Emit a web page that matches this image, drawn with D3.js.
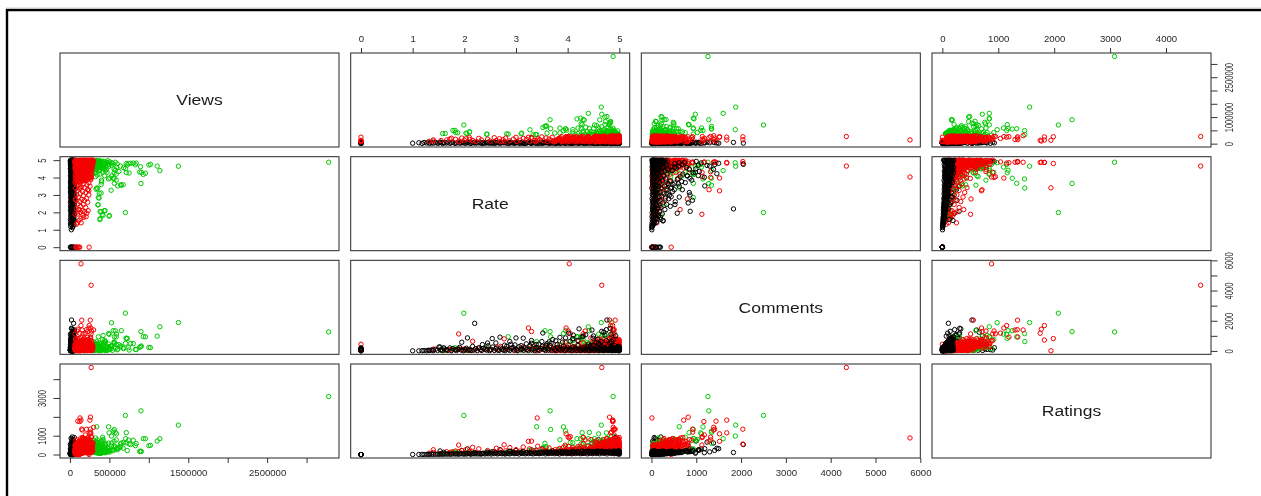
<!DOCTYPE html>
<html>
<head>
<meta charset="utf-8">
<script src="https://cdn.jsdelivr.net/npm/d3@7"></script>
<style>
  body { margin: 0; background: #fff; }
  svg { display: block; filter: blur(0.35px); }
</style>
</head>
<body>
<svg></svg>
<script>
let width = 1261
let height = 496

let names = ["Views", "Rate", "Comments", "Ratings"]

// each row: views in thousands, rate, comments, ratings
let blackRows = [
  [6,0,5,0],[14,0,40,0],[22,0,90,0],[30,0,150,0],[38,0,200,0],[48,0,25,0],[55,0,110,0],[10,0,180,0],
  [18,1,8,3],[32,1.12,6,4],[10,1.18,14,6],[41,1.22,22,8],[24,1.27,10,5],[52,1.3,45,10],[8,1.33,30,12],
  [36,1.37,70,14],[18,1.4,15,18],[47,1.44,110,9],[12,1.48,38,22],[28,1.51,260,16],[55,1.54,60,25],
  [6,1.58,18,11],[40,1.61,130,30],[21,1.65,85,20],[50,1.68,40,35],[14,1.72,200,14],[33,1.75,12,28],
  [44,1.78,155,40],[9,1.82,75,24],[26,1.85,32,45],[56,1.88,100,18],[17,1.91,240,32],[37,1.94,55,50],
  [48,1.98,15,22],[11,2.01,120,38],[29,2.04,180,26],[53,2.07,48,55],[20,2.1,90,42],[7,2.13,28,17],
  [42,2.16,300,60],[31,2.19,65,34],[15,2.22,140,48],[51,2.25,22,28],[25,2.28,210,65],[39,2.31,80,20],
  [9,2.34,35,44],[46,2.37,170,70],[19,2.4,110,30],[34,2.43,50,58],[57,2.46,340,38],[13,2.49,18,75],
  [27,2.52,95,24],[43,2.55,260,62],[6,2.58,42,46],[36,2.61,150,80],[50,2.64,70,32],[22,2.67,25,54],
  [12,2.7,190,85],[41,2.73,120,40],[30,2.76,60,68],[54,2.79,15,27],[17,2.82,310,90],[8,2.85,85,52],
  [38,2.88,35,36],[47,2.91,165,74],[24,2.94,230,95],[14,2.97,50,44],[33,3,105,60],[55,3.03,20,82],
  [10,3.06,280,30],[28,3.09,75,100],[44,3.12,140,55],[19,3.15,40,70],[6,3.18,195,38],[37,3.21,95,88],
  [52,3.24,30,48],[25,3.27,350,105],[15,3.3,60,64],[40,3.33,125,34],[31,3.36,15,92],[8,3.39,220,56],
  [48,3.42,80,110],[21,3.45,45,42],[56,3.48,160,78],[12,3.51,290,60],[35,3.54,100,115],[27,3.57,25,36],
  [43,3.6,135,84],[9,3.63,65,50],[18,3.66,370,120],[50,3.69,38,66],[30,3.72,180,98],[6,3.75,85,44],
  [39,3.78,20,125],[23,3.81,245,70],[54,3.84,110,30],[14,3.87,55,105],[46,3.9,150,58],[33,3.92,320,130],
  [10,3.95,30,80],[26,3.98,90,46],[42,4,205,112],[57,4.03,60,64],[17,4.05,130,135],[36,4.08,15,38],
  [7,4.1,270,90],[49,4.13,75,120],[29,4.15,185,54],[20,4.18,40,145],[38,4.2,350,72],[12,4.22,105,100],
  [53,4.25,25,42],[24,4.27,155,150],[44,4.3,70,60],[8,4.32,230,115],[32,4.34,45,82],[16,4.36,125,155],
  [50,4.38,300,36],[27,4.4,85,128],[41,4.42,20,66],[11,4.44,195,160],[35,4.46,60,94],[55,4.48,140,50],
  [19,4.5,390,170],[6,4.52,35,76],[46,4.54,110,140],[30,4.56,250,58],[14,4.58,75,108],[39,4.6,15,165],
  [23,4.62,165,40],[52,4.64,50,130],[9,4.66,280,88],[34,4.68,95,175],[17,4.7,30,62],[48,4.72,210,118],
  [26,4.74,65,150],[12,4.76,125,34],[42,4.78,330,100],[56,4.8,42,180],[21,4.82,175,72],[7,4.83,85,135],
  [37,4.85,18,56],[29,4.86,240,160],[51,4.87,105,92],[15,4.89,55,185],[44,4.9,150,44],[10,4.91,360,124],
  [33,4.92,70,78],[24,4.93,28,170],[47,4.94,200,60],[18,4.95,115,145],[5,4.96,45,105],[40,4.97,265,190],
  [54,4.97,90,36],[28,4.98,22,130],[13,4.98,160,82],[36,4.99,60,200],[49,4.99,310,66],[20,5,130,110],
  [8,5,35,48],[43,5,190,155],[31,5,12,20],[57,5,80,230],[16,5,240,90],[25,5,50,300],[52,4.96,145,380],
  [11,4.9,95,450],[38,4.94,60,560],[22,4.97,170,660],[46,4.88,130,760],[15,4.95,85,860],[30,4.92,210,930],
  [58,4.85,280,420],[42,4.8,110,510],[28,4.7,190,300],[19,4.6,240,350],[55,4.5,160,260],
  [8,4.93,40,250],[33,4.9,120,340],[50,4.86,70,480],[16,4.82,180,610],[41,4.78,30,720],[25,4.88,100,800],
  [56,4.91,60,900],[12,4.84,210,270],[37,4.76,90,390],[6,4.72,150,530],[47,4.68,45,640],[21,4.95,250,220],
  // scattered ones away from the strip
  [46,2.2,1830,108],[20,4.76,2050,530],[42,2.06,865,300],[30,1.95,575,210],[48,1.53,260,190],[35,1.6,210,120],
  [28,2.54,820,150],[52,2.69,915,260],[24,2.61,530,90],[33,2.45,525,130],[18,2.88,620,175],[40,2.78,385,70],
  [55,3.39,430,230],[26,3.1,350,85],[14,3.14,845,160],[37,3,860,210],[44,3.3,690,250],[21,3.5,620,130],
  [50,3.52,1190,310],[30,3.71,755,180],[12,3.77,675,110],[38,3.64,600,90],[46,4.11,1045,240],[16,4.1,800,140],
  [25,4.22,1460,330],[58,4.47,1385,610],[34,4.49,845,280],[20,4.35,1070,240],[40,4.6,520,780],[10,4.58,780,200],
  [15,3.85,900,170],[54,4.7,1240,660],[36,4.85,620,700],[27,4.3,980,70],[48,4.93,1000,720],[19,4.82,1500,310],
  [32,4.66,1300,140],[22,4.02,1180,95],[45,3.6,480,140],[38,4.75,1410,220],[11,3.3,510,60],[56,2.9,440,160],
  [7,3.44,450,60],[24,3.68,520,85],[41,3.9,580,120],[13,4.05,640,105],[52,4.2,700,150],[30,4.4,460,190],
  [18,4.55,550,90],[44,4.65,610,170],[9,4.75,680,130],[35,4.88,740,210],[56,4.1,800,180],[23,3.96,860,150],
  [48,4.28,930,200],[15,4.5,990,120],[39,4.72,1050,250],[6,4.84,1110,300],[28,3.8,430,70],[51,3.58,380,110],
  [20,3.2,470,95],[34,2.98,400,80],[11,2.35,420,55],[47,4.45,360,280],[26,4.62,430,220],[54,4.82,520,330]
]

let redRows = [
  [140,4.03,5770,880],[269,4.66,4350,4620],[243,0,440,0],[258,4.92,2040,1345],[150,4.81,2040,555],
  [125,4.87,1170,1750],[100,4.88,1440,1770],[128,3.41,10,1942],[260,4.81,820,1985],[140,4.87,1680,1825],
  [253,4.87,720,1825],[300,4.88,1390,1445],[263,4.85,920,1190],[265,3.97,1520,1100],[150,4.9,920,1350],
  [155,4.88,1385,1300],[66,1.89,1125,505],[70,2.77,800,513],[272,4.01,1320,924],[268,4.05,1135,950],
  [240,3.24,1520,700],[225,3.3,1285,710],[245,4.83,1680,1150],[210,4.9,1410,1340],[195,4.9,1180,1040],
  [120,2.16,640,383],[142,1.4,120,253],[165,4.3,1130,900],[92,4.34,1320,780],
  [72,0,10,0],[88,0,40,0],[100,0,15,0],[112,0,70,0],[124,0,30,0],[80,0,90,0],
  // rings below the block
  [82,1.32,30,70],[96,1.4,55,110],[118,1.55,80,60],[140,1.66,40,150],[175,1.72,95,90],[205,1.75,35,130],
  [165,1.83,70,190],[96,1.9,140,160],[212,1.95,110,220],[130,2,50,80],[185,2.03,60,260],[155,2.1,105,170],
  [230,2.1,85,140],[110,2.16,30,70],[80,2.22,150,90],[200,2.28,170,300],[140,2.33,45,50],[170,2.45,120,210],
  [95,2.5,75,110],[225,2.58,40,170],[122,2.62,210,330],[185,2.68,95,120],[75,2.7,300,230],[150,2.75,60,60],
  [210,2.8,130,200],[105,2.88,180,370],[170,2.95,55,140],[240,3,90,260],[85,3.02,40,90],[130,3.08,110,180],
  [200,3.14,260,400],[160,3.2,70,120],[96,3.26,150,300],[225,3.3,100,150],[120,3.35,330,200],[72,3.38,60,80],
  [185,3.42,210,440],[148,3.46,50,110],[255,3.5,180,290],[105,3.54,90,230],[215,3.58,320,170],[80,3.61,130,70],
  [170,3.64,40,350],[130,3.68,240,140],[240,3.7,75,210],
  // solid block
  [64,3.74,160,110],[92,3.76,35,260],[118,3.79,400,180],[148,3.81,90,90],[178,3.84,220,320],[205,3.86,55,150],
  [265,3.88,130,240],[72,3.9,260,70],[102,3.92,70,390],[132,3.94,30,130],[160,3.96,180,210],[192,3.98,110,300],
  [222,4,45,170],[248,4.02,340,430],[82,4.04,95,100],[112,4.06,200,280],[142,4.08,60,60],[172,4.1,130,350],
  [202,4.12,280,190],[232,4.14,35,250],[270,4.16,170,120],[66,4.18,70,340],[95,4.2,420,150],[125,4.22,110,220],
  [155,4.23,45,90],[185,4.25,240,400],[215,4.27,85,270],[245,4.29,150,130],[278,4.3,55,320],[78,4.32,190,80],
  [108,4.34,30,200],[138,4.35,300,310],[168,4.37,100,140],[198,4.39,65,450],[228,4.4,220,240],[258,4.41,120,170],
  [70,4.43,40,110],[90,4.44,150,380],[118,4.46,480,260],[146,4.47,75,70],[176,4.48,260,340],[206,4.5,20,190],
  [236,4.51,180,500],[264,4.52,95,280],[284,4.53,350,150],[62,4.54,125,230],[84,4.55,55,420],[104,4.56,210,120],
  [128,4.57,90,300],[152,4.58,390,530],[180,4.59,35,180],[210,4.6,140,360],[240,4.61,70,90],[268,4.62,270,440],
  [74,4.63,105,250],[98,4.64,290,580],[122,4.65,190,160],[144,4.66,60,320],[170,4.67,500,620],[196,4.68,115,210],
  [222,4.69,40,470],[250,4.7,230,130],[276,4.71,85,380],[288,4.72,160,560],[66,4.73,320,280],[88,4.74,75,100],
  [112,4.75,420,650],[136,4.76,30,240],[160,4.77,250,420],[186,4.78,100,170],[212,4.79,600,700],[238,4.8,55,340],
  [262,4.81,180,500],[282,4.82,120,220],[72,4.83,400,750],[94,4.84,280,300],[116,4.85,90,130],[140,4.85,450,600],
  [164,4.86,65,380],[190,4.87,600,800],[216,4.88,130,250],[242,4.88,25,460],[268,4.89,370,680],[290,4.89,95,180],
  [80,4.9,160,350],[102,4.9,50,540],[126,4.91,310,210],[150,4.91,460,720],[174,4.92,560,420],[200,4.92,470,850],
  [226,4.93,240,290],[252,4.93,410,610],[278,4.94,45,390],[64,4.94,420,170],[88,4.95,100,480],[110,4.95,190,300],
  [134,4.95,330,660],[158,4.96,650,880],[182,4.96,85,230],[208,4.96,300,520],[234,4.97,560,760],[260,4.97,60,340],
  [286,4.97,220,440],[70,4.98,120,260],[96,4.98,480,600],[120,4.98,40,140],[144,4.98,180,400],[168,4.99,760,700],
  [194,4.99,95,320],[220,4.99,260,560],[246,4.99,620,820],[272,4.99,70,210],[292,5,340,620],[76,5,55,360],
  [100,5,210,130],[128,5,110,470],[154,5,540,250],[178,5,380,680],[204,5,170,380],[230,5,700,900],[256,5,90,510],
  [282,5,260,300],[62,4.88,200,90],[130,4.7,620,520],[200,4.55,720,640],[110,4.3,540,590],[180,4.45,850,790],
  [240,4.75,480,830],[150,4.2,640,430],[90,4.6,780,480],[220,4.85,900,760],[175,3.95,590,500],[120,4.9,830,440],
  // the thick part of Comments against Ratings
  [68,4.62,300,300],[84,4.96,340,360],[106,4.82,380,420],[126,4.7,260,480],[148,4.93,420,540],[166,4.58,350,600],
  [188,4.9,470,660],[210,4.74,310,720],[230,4.98,390,780],[252,4.64,510,260],[274,4.86,440,330],[78,4.52,560,390],
  [100,4.94,600,450],[122,4.78,520,510],[142,4.66,660,570],[164,4.97,580,630],[184,4.84,700,690],[206,4.6,640,310],
  [228,4.92,760,370],[248,4.72,540,430],[270,4.98,680,490],[72,4.8,740,550],[94,4.68,800,610],[116,4.95,620,670],
  [136,4.56,480,730],[158,4.88,400,790],[178,4.76,280,850],[198,4.99,340,350],[222,4.63,240,410],[244,4.91,460,470],
  [266,4.81,360,530],[86,4.73,220,590],[108,4.97,300,650],[130,4.85,180,710],[152,4.69,260,770],[172,4.93,500,290],
  [194,4.79,570,350],[216,4.54,430,410],[238,4.89,610,470],[262,4.67,370,530],[280,4.95,530,590],[66,4.83,460,240],
  [90,4.6,390,280],[112,4.9,270,320],[134,4.77,330,220],[156,4.99,240,180],[176,4.65,150,270],[196,4.87,200,190],
  [218,4.71,110,350],[240,4.94,170,260],[258,4.59,210,330],[276,4.84,130,410],[64,4.98,230,470],
  // holes in the block between 3.7 and 4.6
  [76,3.72,60,90],[106,3.75,25,120],[134,3.78,150,80],[164,3.8,45,160],[192,3.83,110,100],[220,3.85,30,190],
  [86,3.87,180,130],[116,3.89,55,70],[146,3.91,95,200],[176,3.93,20,110],[208,3.95,240,140],[238,3.97,65,85],
  [68,3.99,120,170],[98,4.01,40,60],[128,4.03,175,220],[158,4.05,80,120],[188,4.07,30,150],[216,4.09,130,90],
  [246,4.11,50,260],[74,4.13,210,130],[104,4.15,85,75],[134,4.17,25,190],[164,4.19,150,110],[194,4.21,60,240],
  [224,4.23,105,140],[254,4.25,35,95],[84,4.27,190,180],[114,4.29,70,65],[144,4.31,120,280],[174,4.33,40,125],
  [204,4.35,165,200],[234,4.37,75,100],[268,4.39,20,150],[72,4.41,135,90],[100,4.43,50,300],[130,4.45,90,140],
  [160,4.46,30,210],[190,4.49,155,110],[220,4.52,60,320],[250,4.54,110,160],[280,4.56,40,240],[78,4.58,175,120]
]

let greenRows = [
  [3280,4.88,1260,3080],[1375,4.65,1880,1560],[1140,4.4,1600,840],[1106,4.66,980,715],[1000,4.72,235,470],
  [930,4.18,950,840],[900,3.66,1280,2320],[895,4.62,285,175],[885,4.32,235,165],[703,1.99,2500,2075],
  [715,4.28,840,1160],[705,4.52,500,840],[770,4.82,500,530],[744,4.81,220,770],[830,4.73,105,470],
  [713,4.8,830,620],[645,3.58,330,420],[651,3.56,1340,600],[605,3.52,120,360],[563,3.67,935,1330],
  [548,3.96,1340,1250],[490,3.92,1150,1470],[522,3.27,325,230],[500,1.82,215,130],[434,2.1,90,110],
  [408,1.87,160,90],[382,2.05,65,70],[382,1.63,40,55],[357,2.44,110,85],[360,2.85,935,180],[372,3.1,180,100],
  [340,3.4,620,1475],[348,3.38,90,75],[400,3.85,240,280],[402,3.75,75,120],[396,3.6,130,95],
  [590,4.6,1115,1095],[574,4.42,1340,1175],[527,4.85,1870,980],[497,4.75,1100,1150],[420,4.68,1025,800],
  [587,4.2,935,300],[727,4.72,827,210],[957,4.25,935,840],[905,4.3,325,165],[1020,4.76,215,490],
  [840,4.83,90,585],[803,4.83,485,758],[750,4.26,60,560],[680,4.56,150,650],[640,4.66,260,560],
  [620,4.35,420,330],[600,4.78,75,250],[575,4.88,190,400],[560,4.5,560,700],[540,4.82,40,200],[525,4.7,310,450],
  [505,4.9,120,340],[490,4.62,450,600],[470,4.88,30,170],[460,4.45,230,270],[450,4.8,640,520],[440,4.9,90,310],
  [430,4.75,350,420],[420,4.55,160,230],[410,4.92,60,130],[398,4.84,280,700],[385,4.7,20,260],[375,4.88,520,380],
  [365,4.8,110,190],[355,4.92,210,640],[345,4.65,70,320],[335,4.9,400,240],[325,4.76,150,880],[318,4.86,30,150],
  [310,4.92,290,450],[303,4.7,90,560],[300,4.82,600,760],[298,4.88,180,300],[470,4.3,250,180],[440,4.1,690,390],
  [415,4.3,755,920],[380,4.2,50,210],[360,4.4,430,150],[530,4.1,170,620],[505,3.98,90,210],[560,4.26,480,240],
  [330,3.33,150,160],[395,3.11,70,120],[370,2.82,130,90],[355,2.43,280,140],[446,2.1,45,95],[497,1.78,100,150],
  [420,1.83,85,110],[380,1.58,55,60],[395,2.03,60,80],[675,3.59,200,340],[561,3.96,600,430],[587,3.85,420,780],
  // the thick part just above the red band
  [300,4.97,40,120],[308,4.6,130,220],[316,4.9,230,340],[324,4.72,320,460],[332,4.95,80,580],[340,4.52,180,680],
  [348,4.84,270,780],[356,4.68,360,110],[364,4.98,20,200],[372,4.58,110,310],[380,4.88,200,420],[388,4.74,300,530],
  [296,4.82,390,640],[304,4.92,480,750],[312,4.66,60,150],[320,4.8,150,260],[328,4.99,240,370],[336,4.76,330,480],
  [344,4.46,420,590],[352,4.94,510,160],[360,4.62,100,270],[368,4.86,190,90],[376,4.42,280,180],[384,4.96,370,290],
  [392,4.7,460,400],[400,4.56,50,510],[408,4.89,140,620],[416,4.64,220,730],[424,4.93,310,140],[432,4.5,400,240],
  [440,4.78,490,350],[448,4.38,570,460],[456,4.6,30,570],[464,4.85,120,120],[472,4.7,210,220],[480,4.97,300,330],
  [300,4.4,20,440],[315,4.25,95,100],[330,4.3,175,550],[345,4.15,255,210],[305,4.5,340,310],[322,4.05,430,640]
]

let tickValues = [
  [0, 500000, 1000000, 1500000, 2000000, 2500000, 3000000],
  [0, 1, 2, 3, 4, 5],
  [0, 1000, 2000, 3000, 4000, 5000, 6000],
  [0, 1000, 2000, 3000, 4000]
]
let xTickLabels = [
  [0, 500000, 1500000, 2500000],
  [0, 1, 2, 3, 4, 5],
  [0, 1000, 2000, 3000, 4000, 5000, 6000],
  [0, 1000, 2000, 3000, 4000]
]
let yTickLabels = [
  [0, 1000000, 2500000],
  [0, 1, 2, 3, 4, 5],
  [0, 2000, 4000, 6000],
  [0, 1000, 3000]
]

let black = {rows: blackRows, color: "#000000"}
let blackHigh = {rows: blackRows.filter((d) => d[3] > 200), color: "#000000"}
let blackLow = {rows: blackRows.filter((d) => d[3] <= 200), color: "#000000"}
let green = {rows: greenRows, color: "#00c800"}
let red = {rows: redRows, color: "#f50000"}

let cellW = 279
let cellH = 94
let stepX = 290.67
let stepY = 103.67
let left = 60
let top0 = 53

let svg = d3.select("svg")
svg.attr("width", width)
svg.attr("height", height)

let value = (row, i) => i == 0 ? row[0] * 1000 : row[i]

// same 4% extension on both sides as the original plot
let allRows = blackRows.concat(redRows, greenRows)
let domains = names.map((n, i) => {
  let ext = d3.extent(allRows, (d) => value(d, i))
  let pad = (ext[1] - ext[0]) * 0.04
  return [ext[0] - pad, ext[1] + pad]
})

let xScales = names.map((n, i) => d3.scaleLinear()
  .domain(domains[i])
  .range([left + i * stepX, left + i * stepX + cellW]))
let yScales = names.map((n, i) => d3.scaleLinear()
  .domain(domains[i])
  .range([top0 + i * stepY + cellH, top0 + i * stepY]))

// the outer frame of the figure
svg.append("path")
   .attr("d", "M7,496V10H1261")
   .attr("fill", "none")
   .attr("stroke", "#000")
   .attr("stroke-width", 2.4)
svg.append("line")
   .attr("x1", 6).attr("x2", 1261).attr("y1", 8).attr("y2", 8)
   .attr("stroke", "#ccc")

let drawCell = (col, row) => {
  let x = xScales[col]
  let y = yScales[row]

  // the original plots the rows unsorted, so the draw order differs per panel
  let order = [black, green, red]
  if ((row == 1 && col == 2) || (row == 2 && col == 1)) {
    order = [green, red, black]
  } else if ((row == 1 && col == 3) || (row == 3 && col == 1) || (row == 3 && col == 2) || (row == 2 && col == 3)) {
    order = [blackHigh, green, red, blackLow]
  }

  if (col != row) {
    order.forEach((g) => {
      svg.append("g")
         .selectAll("circle")
         .data(g.rows)
         .enter()
         .append("circle")
         .attr("cx", (d) => x(value(d, col)))
         .attr("cy", (d) => y(value(d, row)))
         .attr("r", 2.2)
         .attr("fill", "none")
         .attr("stroke", g.color)
         .attr("stroke-width", 1)
    })
  }

  svg.append("rect")
     .attr("x", x.range()[0])
     .attr("y", y.range()[1])
     .attr("width", cellW)
     .attr("height", cellH)
     .attr("fill", "none")
     .attr("stroke", "#3a3a3a")
     .attr("stroke-width", 1.1)
}

let drawNames = () => {
  names.forEach((n, i) => {
    let cx = xScales[i].range()[0] + cellW / 2
    let cy = yScales[i].range()[1] + cellH / 2
    svg.append("text")
       .attr("transform", "translate(" + cx + "," + cy + ") scale(1.13,1)")
       .attr("text-anchor", "middle")
       .attr("dy", "0.35em")
       .attr("font-family", "'Liberation Sans', Arial, sans-serif")
       .attr("font-size", 15.5)
       .attr("fill", "#1a1a1a")
       .text(n)
  })
}

let styleAxis = (g, labels, size, place) => {
  g.select(".domain").remove()
  g.selectAll("line").attr("stroke", "#333")
  g.selectAll("text")
   .attr("x", null)
   .attr("y", null)
   .attr("dy", "0.35em")
   .attr("text-anchor", "middle")
   .attr("font-family", "'Liberation Sans', Arial, sans-serif")
   .attr("font-size", size)
   .attr("fill", "#2a2a2a")
   .attr("transform", place)
   .text((d) => labels.includes(d) ? d : "")
}

let drawAxes = () => {
  names.forEach((n, i) => {
    let onTop = i % 2 == 1
    let xAxis = (onTop ? d3.axisTop(xScales[i]) : d3.axisBottom(xScales[i]))
      .tickValues(tickValues[i])
      .tickSize(5)
    svg.append("g")
       .attr("transform", "translate(0," + (onTop ? yScales[0].range()[1] : yScales[3].range()[0]) + ")")
       .call(xAxis)
       .call(styleAxis, xTickLabels[i], 8.8, "translate(0," + (onTop ? -14 : 15) + ") scale(1.09,1)")

    let onRight = i % 2 == 0
    let yAxis = (onRight ? d3.axisRight(yScales[i]) : d3.axisLeft(yScales[i]))
      .tickValues(tickValues[i])
      .tickSize(6.5)
    svg.append("g")
       .attr("transform", "translate(" + (onRight ? xScales[3].range()[1] : xScales[0].range()[0]) + ",0)")
       .call(yAxis)
       .call(styleAxis, yTickLabels[i], 7.6, "translate(" + (onRight ? 18.5 : -17.5) + ",0) scale(1.4,1) rotate(-90)")
  })
}

names.forEach((a, row) => {
  names.forEach((b, col) => drawCell(col, row))
})
drawNames()
drawAxes()
</script>
</body>
</html>
